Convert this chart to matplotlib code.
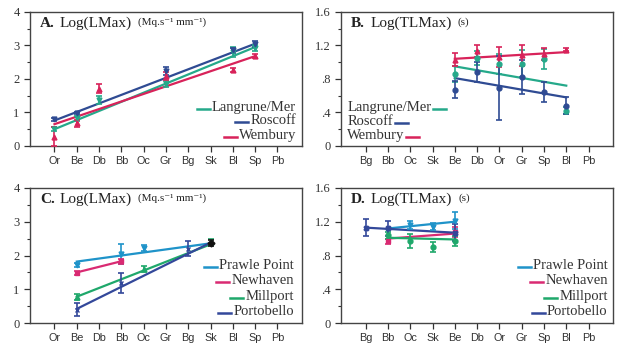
import numpy as np
import matplotlib
matplotlib.use("Agg")
import matplotlib.pyplot as plt
from matplotlib.ticker import MultipleLocator, FuncFormatter

plt.rcParams['font.family'] = ['Liberation Serif', 'DejaVu Serif']

# categorias do eixo x
cats_a = ['Or', 'Be', 'Db', 'Bb', 'Oc', 'Gr', 'Bg', 'Sk', 'Bl', 'Sp', 'Pb']
cats_b = ['Bg', 'Bb', 'Oc', 'Sk', 'Be', 'Db', 'Or', 'Gr', 'Sp', 'Bl', 'Pb']

# cores
c_lang = '#25a98a'
c_rosc = '#2f4b93'
c_wemb = '#d8235a'
c_praw = '#1f93c9'
c_newh = '#d92a72'
c_mill = '#1fa86b'
c_port = '#33489a'

# --- A: Log(LMax), locais Langrune / Roscoff / Wembury
lang_a_sites = ['Or', 'Be', 'Db', 'Gr', 'Bl', 'Sp']
lang_a = [0.50, 0.82, 1.36, 1.85, 2.80, 2.92]
lang_a_err = [0.06, 0.08, 0.12, 0.08, 0.15, 0.10]
rosc_a_sites = ['Or', 'Be', 'Gr', 'Bl', 'Sp']
rosc_a = [0.79, 0.97, 2.25, 2.85, 3.04]
rosc_a_err = [0.05, 0.03, 0.12, 0.08, 0.08]
wemb_a_sites = ['Or', 'Be', 'Db', 'Gr', 'Bl', 'Sp']
wemb_a = [0.28, 0.67, 1.71, 2.10, 2.26, 2.67]
wemb_a_err = [0.28, 0.10, 0.13, 0.12, 0.06, 0.06]
# retas ajustadas (início, fim)
fit_a_sites = ['Or', 'Sp']
lang_a_fit = [0.50, 2.95]
rosc_a_fit = [0.76, 3.05]
wemb_a_fit = [0.65, 2.68]

# --- B: Log(TLMax)
b_sites = ['Be', 'Db', 'Or', 'Gr', 'Sp', 'Bl']
lang_b = [0.86, 1.05, 0.98, 0.98, 1.04, 0.42]
lang_b_err = [0.10, 0.08, 0.12, 0.16, 0.12, 0.04]
rosc_b = [0.67, 0.88, 0.69, 0.82, 0.64, 0.48]
rosc_b_err = [0.10, 0.12, 0.38, 0.20, 0.12, 0.10]
wemb_b = [1.03, 1.13, 1.06, 1.08, 1.10, 1.15]
wemb_b_err = [0.08, 0.07, 0.12, 0.13, 0.07, 0.02]
fit_b_sites = ['Be', 'Bl']
lang_b_fit = [0.95, 0.72]
rosc_b_fit = [0.81, 0.58]
wemb_b_fit = [1.04, 1.12]

# --- C: Log(LMax), Prawle Point / Newhaven / Millport / Portobello
praw_c_sites = ['Be', 'Bb', 'Oc']
praw_c = [1.72, 2.05, 2.22]
praw_c_err = [0.07, 0.30, 0.10]
newh_c_sites = ['Be', 'Bb']
newh_c = [1.48, 1.83]
newh_c_err = [0.05, 0.08]
mill_c_sites = ['Be', 'Oc', 'Sk']
mill_c = [0.77, 1.60, 2.40]
mill_c_err = [0.08, 0.08, 0.10]
port_c_sites = ['Be', 'Bb', 'Bg']
port_c = [0.40, 1.18, 2.20]
port_c_err = [0.20, 0.30, 0.22]
sk_c = [2.37]
sk_c_err = [0.08]
praw_c_fit_sites = ['Be', 'Sk']
praw_c_fit = [1.82, 2.36]
newh_c_fit_sites = ['Be', 'Bb']
newh_c_fit = [1.50, 1.83]
mill_c_fit_sites = ['Be', 'Sk']
mill_c_fit = [0.78, 2.33]
port_c_fit_sites = ['Be', 'Sk']
port_c_fit = [0.42, 2.38]

# --- D: Log(TLMax)
praw_d_sites = ['Oc', 'Sk', 'Be']
praw_d = [1.16, 1.14, 1.21]
praw_d_err = [0.05, 0.04, 0.10]
newh_d_sites = ['Bb', 'Be']
newh_d = [0.97, 1.08]
newh_d_err = [0.03, 0.06]
mill_d_sites = ['Bb', 'Oc', 'Sk', 'Be']
mill_d = [1.04, 0.97, 0.90, 0.97]
mill_d_err = [0.04, 0.08, 0.06, 0.06]
port_d_sites = ['Bg', 'Bb', 'Be']
port_d = [1.13, 1.12, 1.07]
port_d_err = [0.10, 0.09, 0.10]
praw_d_fit_sites = ['Bb', 'Be']
praw_d_fit = [1.12, 1.20]
newh_d_fit_sites = ['Bb', 'Be']
newh_d_fit = [1.00, 1.06]
mill_d_fit_sites = ['Bb', 'Be']
mill_d_fit = [1.01, 0.99]
port_d_fit_sites = ['Bg', 'Be']
port_d_fit = [1.13, 1.07]

fig = plt.figure(figsize=(6.18, 3.5), dpi=100)
axA = fig.add_axes([0.0485, 0.583, 0.440, 0.383])
axB = fig.add_axes([0.552, 0.583, 0.440, 0.383])
axC = fig.add_axes([0.0485, 0.077, 0.440, 0.386])
axD = fig.add_axes([0.552, 0.077, 0.440, 0.386])


def pos(cats, sites):
    return [cats.index(s) for s in sites]


def serie(ax, cats, sites, vals, errs, color, marker):
    ax.errorbar(pos(cats, sites), vals, yerr=errs, fmt=marker, color=color,
                ms=3.5, elinewidth=1.2, capsize=2.5, capthick=1.2, zorder=3)


def reta(ax, cats, sites, vals, color):
    ax.plot(pos(cats, sites), vals, color=color, lw=1.6, zorder=2)


def base(ax, cats, ymax, major, minor, fmt):
    ax.set_xlim(-1.1, 11.1)
    ax.set_ylim(0, ymax)
    ax.set_xticks(range(len(cats)))
    ax.set_xticklabels(cats, family='Liberation Sans', fontsize=7.8, color='#444444')
    ax.yaxis.set_major_locator(MultipleLocator(major))
    ax.yaxis.set_minor_locator(MultipleLocator(minor))
    ax.yaxis.set_major_formatter(FuncFormatter(fmt))
    ax.tick_params(axis='y', labelsize=9, colors='#333333', length=4, width=0.9)
    ax.tick_params(axis='y', which='minor', length=2.5, width=0.8, colors='#333333')
    ax.tick_params(axis='x', length=4, width=0.9, colors='#333333', pad=3)
    for s in ax.spines.values():
        s.set_color('#444444')
        s.set_linewidth(1.0)


def fmt_int(v, p):
    return '%d' % round(v)


def fmt_dec(v, p):
    if abs(v) < 1e-9:
        return '0'
    s = '%.1f' % v
    return s[1:] if s.startswith('0') else s


base(axA, cats_a, 4, 1, 0.5, fmt_int)
base(axB, cats_b, 1.6, 0.4, 0.2, fmt_dec)
base(axC, cats_a, 4, 1, 0.5, fmt_int)
base(axD, cats_b, 1.6, 0.4, 0.2, fmt_dec)

# painel A
reta(axA, cats_a, fit_a_sites, lang_a_fit, c_lang)
reta(axA, cats_a, fit_a_sites, rosc_a_fit, c_rosc)
reta(axA, cats_a, fit_a_sites, wemb_a_fit, c_wemb)
serie(axA, cats_a, lang_a_sites, lang_a, lang_a_err, c_lang, 'v')
serie(axA, cats_a, rosc_a_sites, rosc_a, rosc_a_err, c_rosc, 'v')
serie(axA, cats_a, wemb_a_sites, wemb_a, wemb_a_err, c_wemb, '^')

# painel B
reta(axB, cats_b, fit_b_sites, lang_b_fit, c_lang)
reta(axB, cats_b, fit_b_sites, rosc_b_fit, c_rosc)
reta(axB, cats_b, fit_b_sites, wemb_b_fit, c_wemb)
serie(axB, cats_b, b_sites, lang_b, lang_b_err, c_lang, 'o')
serie(axB, cats_b, b_sites, rosc_b, rosc_b_err, c_rosc, 'o')
serie(axB, cats_b, b_sites, wemb_b, wemb_b_err, c_wemb, '^')

# painel C
reta(axC, cats_a, praw_c_fit_sites, praw_c_fit, c_praw)
reta(axC, cats_a, newh_c_fit_sites, newh_c_fit, c_newh)
reta(axC, cats_a, mill_c_fit_sites, mill_c_fit, c_mill)
reta(axC, cats_a, port_c_fit_sites, port_c_fit, c_port)
serie(axC, cats_a, praw_c_sites, praw_c, praw_c_err, c_praw, 'v')
serie(axC, cats_a, newh_c_sites, newh_c, newh_c_err, c_newh, 's')
serie(axC, cats_a, mill_c_sites, mill_c, mill_c_err, c_mill, '^')
serie(axC, cats_a, port_c_sites, port_c, port_c_err, c_port, 'x')
serie(axC, cats_a, ['Sk'], sk_c, sk_c_err, '#111111', 'D')

# painel D
reta(axD, cats_b, praw_d_fit_sites, praw_d_fit, c_praw)
reta(axD, cats_b, newh_d_fit_sites, newh_d_fit, c_newh)
reta(axD, cats_b, mill_d_fit_sites, mill_d_fit, c_mill)
reta(axD, cats_b, port_d_fit_sites, port_d_fit, c_port)
serie(axD, cats_b, praw_d_sites, praw_d, praw_d_err, c_praw, 'v')
serie(axD, cats_b, newh_d_sites, newh_d, newh_d_err, c_newh, 's')
serie(axD, cats_b, mill_d_sites, mill_d, mill_d_err, c_mill, 'o')
serie(axD, cats_b, port_d_sites, port_d, port_d_err, c_port, 'X')

fig.canvas.draw()
rend = fig.canvas.get_renderer()


def px2ax(ax, dx):
    return dx / ax.bbox.width


def titulo(ax, letra, texto, unid):
    x, y = 0.037, 0.915
    t = ax.text(x, y, letra, transform=ax.transAxes, fontsize=11, fontweight='bold',
                va='center', color='#222222')
    x += px2ax(ax, t.get_window_extent(rend).width + 5)
    t = ax.text(x, y, texto, transform=ax.transAxes, fontsize=11, va='center', color='#222222')
    x += px2ax(ax, t.get_window_extent(rend).width + 6)
    ax.text(x, y + 0.01, unid, transform=ax.transAxes, fontsize=8, va='center', color='#222222')


def legenda(ax, nomes, cores, x, ys, lado):
    for n, c, y in zip(nomes, cores, ys):
        ha = 'right' if lado == 'antes' else 'left'
        t = ax.text(x, y, n, transform=ax.transAxes, fontsize=10.5, ha=ha, va='center',
                    color='#333333')
        w = px2ax(ax, t.get_window_extent(rend).width)
        L = px2ax(ax, 13)
        g = px2ax(ax, 2)
        if lado == 'antes':
            x1 = x - w - g
            xs = [x1 - L, x1]
        else:
            x1 = x + w + g
            xs = [x1, x1 + L]
        ax.plot(xs, [y - 0.01, y - 0.01], transform=ax.transAxes, color=c, lw=1.8,
                clip_on=False)


unid = '(Mq.s\u207b\u00b9 mm\u207b\u00b9)'
titulo(axA, 'A.', 'Log(LMax)', unid)
titulo(axB, 'B.', 'Log(TLMax)', '(s)')
titulo(axC, 'C.', 'Log(LMax)', unid)
titulo(axD, 'D.', 'Log(TLMax)', '(s)')

legenda(axA, ['Langrune/Mer', 'Roscoff', 'Wembury'], [c_lang, c_rosc, c_wemb],
        0.978, [0.285, 0.19, 0.078], 'antes')
legenda(axB, ['Langrune/Mer', 'Roscoff', 'Wembury'], [c_lang, c_rosc, c_wemb],
        0.022, [0.289, 0.183, 0.078], 'depois')
nomes_cd = ['Prawle Point', 'Newhaven', 'Millport', 'Portobello']
cores_cd = [c_praw, c_newh, c_mill, c_port]
legenda(axC, nomes_cd, cores_cd, 0.97, [0.424, 0.316, 0.198, 0.088], 'antes')
legenda(axD, nomes_cd, cores_cd, 0.98, [0.424, 0.316, 0.198, 0.088], 'antes')

fig.savefig('out.png', dpi=100)
